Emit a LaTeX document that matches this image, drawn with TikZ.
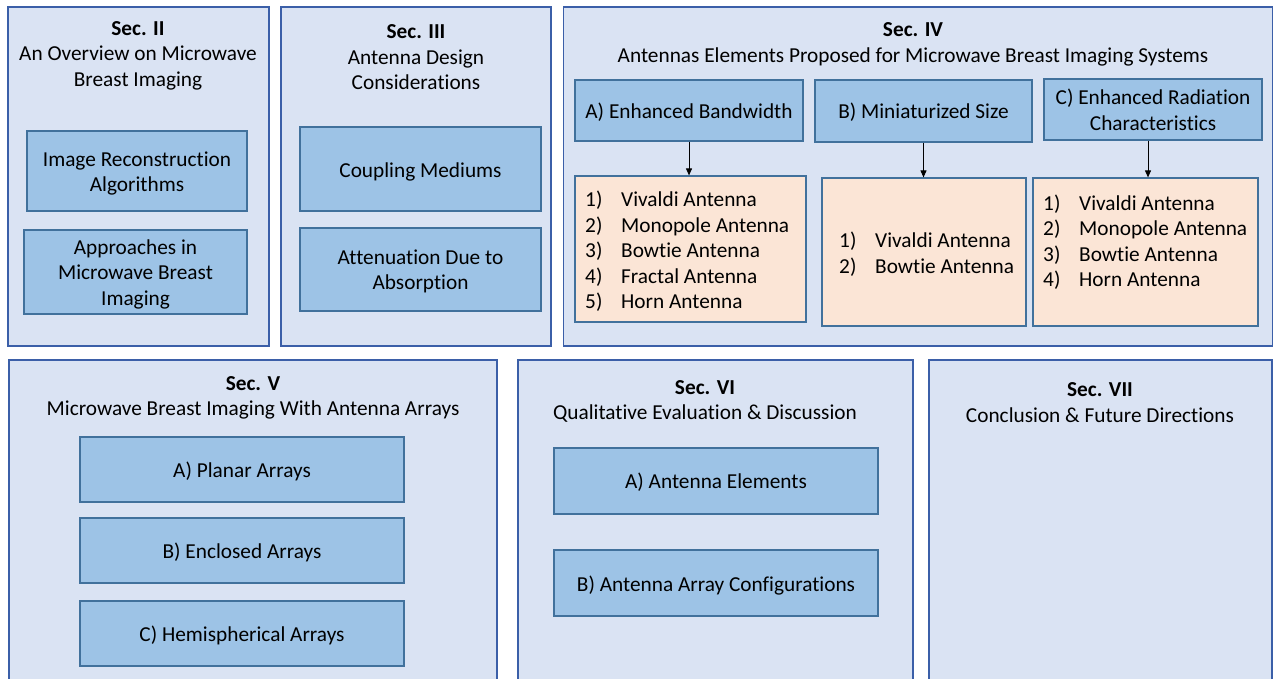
\documentclass[tikz,border=0pt]{standalone}
\usepackage{fontspec}
\setmainfont{Carlito}[Ligatures={NoCommon}]
\usetikzlibrary{arrows.meta}
\definecolor{panelfill}{HTML}{DAE3F3}
\definecolor{paneldraw}{HTML}{3B5FA8}
\definecolor{boxfill}{HTML}{9DC3E6}
\definecolor{boxdraw}{HTML}{41719C}
\definecolor{orfill}{HTML}{FBE5D6}
\tikzset{
  txt/.style={font=\fontsize{21.3}{25.5}\selectfont, align=center, inner sep=0pt},
  panel/.style={rectangle, fill=panelfill, draw=paneldraw, line width=1.2pt, inner sep=0pt},
  bluebox/.style={rectangle, fill=boxfill, draw=boxdraw, line width=1.2pt, inner sep=0pt},
  orbox/.style={rectangle, fill=orfill, draw=boxdraw, line width=1.2pt, inner sep=0pt},
  listtxt/.style={font=\fontsize{21.3}{25.5}\selectfont, align=left, inner sep=0pt, anchor=west},
  arr/.style={-{Triangle[length=7pt,width=6pt]}, line width=0.9pt, black}
}
\newcommand{\itm}[2]{\makebox[36pt][l]{#1}#2}
\begin{document}
\begin{tikzpicture}[x=1pt,y=-1pt]
\useasboundingbox (0,0) rectangle (1274,679);
\clip (0,0) rectangle (1274,679);
% panels
\node[panel, minimum width=261pt, minimum height=339pt] (p2) at (138.5,176.5) {};
\node[panel, minimum width=270pt, minimum height=339pt] (p3) at (416,176.5) {};
\node[panel, minimum width=709pt, minimum height=339pt] (p4) at (918,176.5) {};
\node[panel, minimum width=488pt, minimum height=340pt] (p5) at (253,530) {};
\node[panel, minimum width=395pt, minimum height=340pt] (p6) at (715.5,530) {};
\node[panel, minimum width=343pt, minimum height=340pt] (p7) at (1100.5,530) {};
% titles
\node[txt] (t2) at (138,55.5) {\textbf{Sec. II}\\An Overview on Microwave\\Breast Imaging};
\node[txt] (t3) at (416,57.5) {\textbf{Sec. III}\\Antenna Design\\Considerations};
\node[txt] (t4) at (913,44.5) {\textbf{Sec. IV}\\Antennas Elements Proposed for Microwave Breast Imaging Systems};
\node[txt] (t5) at (253,398) {\textbf{Sec. V}\\Microwave Breast Imaging With Antenna Arrays};
\node[txt] (t6) at (705,401.5) {\textbf{Sec. VI}\\Qualitative Evaluation \& Discussion};
\node[txt] (t7) at (1100,402.5) {\textbf{Sec. VII}\\Conclusion \& Future Directions};
% Sec II boxes
\node[bluebox, minimum width=220pt, minimum height=80pt] (b2a) at (137,171) {};
\node[txt] (b2at) at ([yshift=-2.5pt]b2a.center) {Image Reconstruction\\Algorithms};
\node[bluebox, minimum width=223pt, minimum height=84pt] (b2b) at (135.5,272) {};
\node[txt] (b2bt) at ([yshift=-2pt]b2b.center) {Approaches in\\Microwave Breast\\Imaging};
% Sec III boxes
\node[bluebox, minimum width=241pt, minimum height=84pt] (b3a) at (420.5,169) {};
\node[txt] (b3at) at ([yshift=-2.5pt]b3a.center) {Coupling Mediums};
\node[bluebox, minimum width=241pt, minimum height=83pt] (b3b) at (420.5,269.5) {};
\node[txt] (b3bt) at ([yshift=-2pt]b3b.center) {Attenuation Due to\\Absorption};
% Sec IV boxes
\node[bluebox, minimum width=228pt, minimum height=61pt] (b4a) at (689,110.5) {};
\node[txt] (b4at) at ([yshift=-2pt]b4a.center) {A) Enhanced Bandwidth};
\node[bluebox, minimum width=217pt, minimum height=62pt] (b4b) at (923.5,111) {};
\node[txt] (b4bt) at ([yshift=-1pt]b4b.center) {B) Miniaturized Size};
\node[bluebox, minimum width=218pt, minimum height=61pt] (b4c) at (1153,109.5) {};
\node[txt] (b4ct) at ([yshift=-0.5pt]b4c.center) {C) Enhanced Radiation\\Characteristics};
\node[orbox, minimum width=231pt, minimum height=146pt] (o4a) at (690.5,249) {};
\node[orbox, minimum width=204pt, minimum height=148pt] (o4b) at (924,252) {};
\node[orbox, minimum width=225pt, minimum height=148pt] (o4c) at (1145.5,252) {};
\node[listtxt] (l4a) at (585,251.5) {\itm{1)}{Vivaldi Antenna}\\\itm{2)}{Monopole Antenna}\\\itm{3)}{Bowtie Antenna}\\\itm{4)}{Fractal Antenna}\\\itm{5)}{Horn Antenna}};
\node[listtxt] (l4b) at (839,254) {\itm{1)}{Vivaldi Antenna}\\\itm{2)}{Bowtie Antenna}};
\node[listtxt] (l4c) at (1043,242) {\itm{1)}{Vivaldi Antenna}\\\itm{2)}{Monopole Antenna}\\\itm{3)}{Bowtie Antenna}\\\itm{4)}{Horn Antenna}};
\draw[arr] (b4a.south) -- (b4a.south |- o4a.north);
\draw[arr] (b4b.south) -- (b4b.south |- o4b.north);
\draw[arr] ([xshift=-5pt]b4c.south) -- ([xshift=-5pt]b4c.south |- o4c.north);
% Sec V boxes
\node[bluebox, minimum width=324pt, minimum height=65pt] (b5a) at (242,469.5) {};
\node[txt] (b5at) at ([yshift=-2pt]b5a.center) {A) Planar Arrays};
\node[bluebox, minimum width=324pt, minimum height=65pt] (b5b) at (242,550.5) {};
\node[txt] (b5bt) at ([yshift=-2pt]b5b.center) {B) Enclosed Arrays};
\node[bluebox, minimum width=324pt, minimum height=65pt] (b5c) at (242,633.5) {};
\node[txt] (b5ct) at ([yshift=-2pt]b5c.center) {C) Hemispherical Arrays};
% Sec VI boxes
\node[bluebox, minimum width=324pt, minimum height=66pt] (b6a) at (716,481) {};
\node[txt] (b6at) at ([yshift=-1.5pt]b6a.center) {A) Antenna Elements};
\node[bluebox, minimum width=324pt, minimum height=66pt] (b6b) at (716,583) {};
\node[txt] (b6bt) at ([yshift=-2.5pt]b6b.center) {B) Antenna Array Configurations};
\end{tikzpicture}
\end{document}
